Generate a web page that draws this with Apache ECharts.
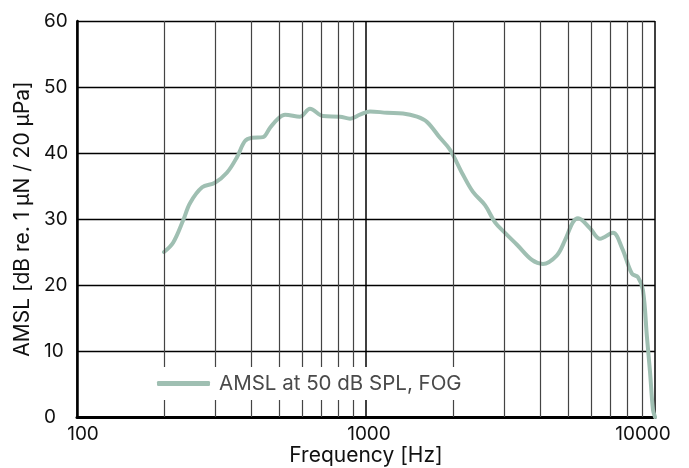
<!DOCTYPE html>
<html>
<head>
<meta charset="utf-8">
<script src="https://cdn.jsdelivr.net/npm/echarts@6/dist/echarts.min.js"></script>
<style>html,body{margin:0;padding:0;background:#fff}#c{width:689px;height:468px}</style>
</head>
<body>
<div id="c"></div>
<script>
const freqs = [200,215,233,246,271,300,330,358,381,403,440,465,496,525,591,640,710,813,881,953,1032,1182,1343,1502,1626,1803,1953,2166,2345,2581,2795,3027,3331,3751,4093,4577,4883,5200,5416,5957,6450,7156,7690,8326,8730,9085,9379,9616,9840,10000];
const amsl  = [25.0,26.4,29.8,32.4,34.8,35.5,37.0,39.4,41.8,42.3,42.4,43.8,45.2,45.8,45.5,46.7,45.6,45.5,45.2,45.8,46.3,46.1,46.0,45.5,44.7,42.3,40.5,36.7,34.1,32.1,29.5,27.9,26.1,23.8,23.2,24.5,26.8,29.5,30.1,28.6,27.0,27.9,25.6,21.7,21.2,19.2,12.1,6.7,1.1,0.0];
const minorGridFreqs = [200,300,400,500,600,700,800,900,2000,3000,4000,5000,6000,7000,8000,9000];
const xTickLabels = {100:'100',1000:'1000',10000:'10000'};
const seriesName = 'AMSL at 50 dB SPL, FOG';
const FONT = 'Inter';

const chart = echarts.init(document.getElementById('c'), null, {renderer:'canvas'});
chart.setOption({
  backgroundColor:'#fff',
  animation:false,
  grid:{left:77,right:34,top:21,bottom:51,containLabel:false,outerBoundsMode:'none'},
  legend:{
    show:true,
    data:[seriesName],
    left:150, top:367,
    padding:[6,8,6,7],
    backgroundColor:'#fff',
    icon:'roundRect',
    itemWidth:53, itemHeight:5,
    textStyle:{fontFamily:FONT,fontSize:20.5,color:'#4a4a4a',padding:[0,0,0,4]},
    selectedMode:false,
    z:10
  },
  xAxis:{
    type:'log', logBase:10, min:100, max:10000,
    name:'Frequency [Hz]', nameLocation:'middle', nameGap:28,
    nameMoveOverlap:false,
    nameTextStyle:{fontFamily:FONT,fontSize:21,color:'#111',verticalAlign:'top'},
    axisLine:{show:true,lineStyle:{color:'#000',width:3}},
    axisTick:{show:false},
    axisLabel:{
      fontFamily:FONT,fontSize:19,color:'#111',margin:8,
      formatter:function(v){
        const r = Math.round(v);
        const t = xTickLabels[r] || '';
        if (r===100) return '{a|'+t+'}';
        if (r===10000) return '{c|'+t+'}';
        return '{b|'+t+'}';
      },
      rich:{
        a:{fontFamily:FONT,fontSize:19,color:'#111',padding:[0,0,0,12]},
        b:{fontFamily:FONT,fontSize:19,color:'#111',padding:[0,0,0,6]},
        c:{fontFamily:FONT,fontSize:19,color:'#111',padding:[0,24,0,0]}
      }
    },
    splitLine:{show:true,lineStyle:{color:'#000',width:1.5}},
    minorTick:{show:false},
    minorSplitLine:{show:false}
  },
  yAxis:{
    type:'value', min:0, max:60, interval:10,
    name:'AMSL [dB re. 1 µN / 20 µPa]', nameLocation:'middle', nameGap:44,
    nameMoveOverlap:false,
    nameTextStyle:{fontFamily:FONT,fontSize:21,color:'#111'},
    axisLine:{show:true,lineStyle:{color:'#000',width:2.5}},
    axisTick:{show:false},
    axisLabel:{fontFamily:FONT,fontSize:19,color:'#111',align:'left',margin:33,padding:[5,0,0,0]},
    splitLine:{show:true,lineStyle:{color:'#000',width:1.3}}
  },
  series:[{
    name:seriesName,
    type:'line',
    data:freqs.map((f,i)=>[f,amsl[i]]),
    showSymbol:false, symbol:'none',
    smooth:0.35,
    lineStyle:{color:'#9fbfb2',width:4,cap:'round',join:'round'},
    itemStyle:{color:'#9fbfb2'},
    z:3,
    markLine:{
      silent:true, symbol:['none','none'], animation:false,
      label:{show:false},
      lineStyle:{color:'#444',width:1.2,type:'solid'},
      emphasis:{disabled:true},
      data:minorGridFreqs.map(f=>({xAxis:f}))
    }
  }]
});
</script>
</body>
</html>
